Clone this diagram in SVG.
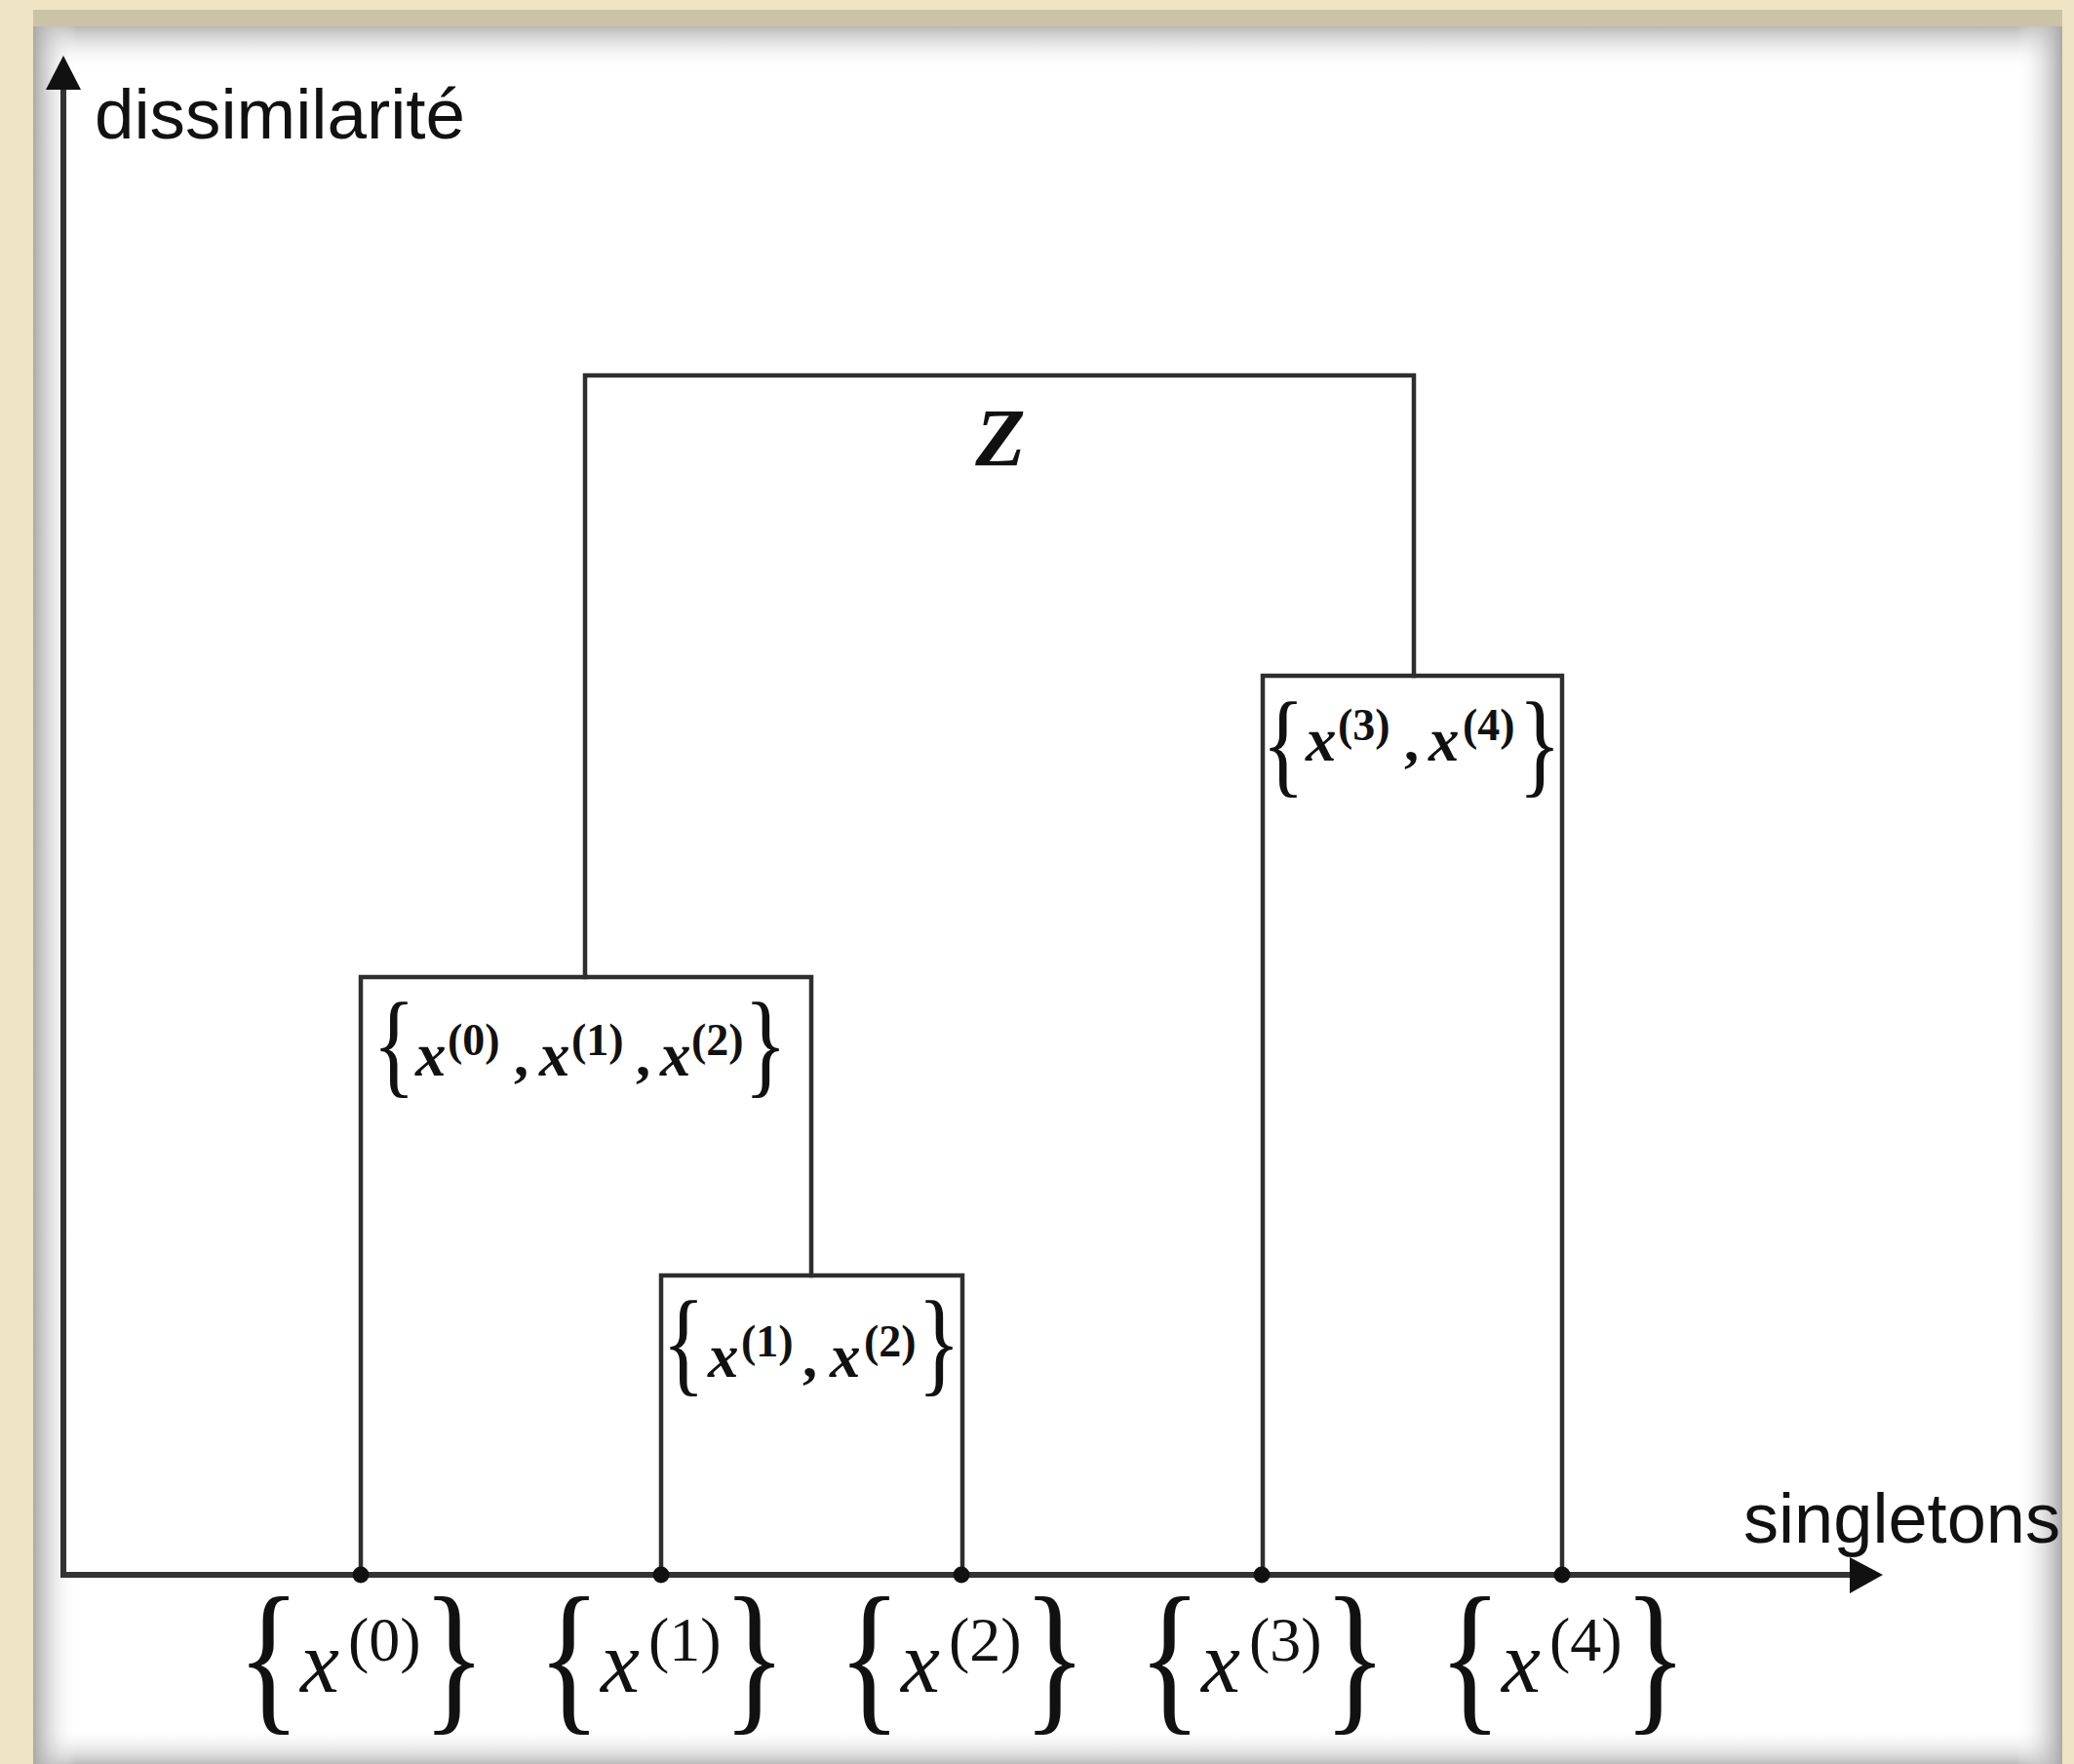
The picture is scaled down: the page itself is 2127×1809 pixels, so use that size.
<svg xmlns="http://www.w3.org/2000/svg" width="2127" height="1809" viewBox="0 0 2127 1809">
<defs>
<linearGradient id="gl" x1="0" y1="0" x2="1" y2="0"><stop offset="0" stop-color="#a9a9a9"/><stop offset="1" stop-color="#ffffff" stop-opacity="0"/></linearGradient>
<linearGradient id="gr" x1="1" y1="0" x2="0" y2="0"><stop offset="0" stop-color="#a9a9a9"/><stop offset="1" stop-color="#ffffff" stop-opacity="0"/></linearGradient>
<linearGradient id="gt" x1="0" y1="0" x2="0" y2="1"><stop offset="0" stop-color="#b8b8b8"/><stop offset="1" stop-color="#ffffff" stop-opacity="0"/></linearGradient>
<linearGradient id="gb" x1="0" y1="1" x2="0" y2="0"><stop offset="0" stop-color="#bdbdbd"/><stop offset="1" stop-color="#ffffff" stop-opacity="0"/></linearGradient>
<style>
.ln{stroke:#2e2e2e;stroke-width:4.5;fill:none;stroke-linecap:square}
.ax{stroke:#333;stroke-width:6;fill:none}
.dot{fill:#111}
.lab{font-family:"Liberation Sans",Arial,sans-serif;font-size:73px;fill:#111}
.br{font-family:"Liberation Serif","Times New Roman",serif;fill:#111}
.mx{font-family:"Liberation Serif","Times New Roman",serif;font-style:italic;fill:#111}
.mr{font-family:"Liberation Serif","Times New Roman",serif;fill:#111}
.bx{font-family:"Liberation Serif","Times New Roman",serif;font-style:italic;font-weight:bold;fill:#111}
.brd{font-family:"Liberation Serif","Times New Roman",serif;font-weight:bold;fill:#111}
</style>
</defs>
<g id="background">
<rect width="2127" height="1809" fill="#efe4c3"/>
<rect x="34" y="10" width="2081" height="20" fill="#cbc3a6"/>
<rect x="34" y="27" width="2081" height="1782" fill="#ffffff"/>
<rect x="34" y="27" width="2081" height="45" fill="url(#gt)"/>
<rect x="34" y="1772" width="2081" height="37" fill="url(#gb)"/>
<rect x="34" y="27" width="45" height="1782" fill="url(#gl)"/>
<rect x="2068" y="27" width="47" height="1782" fill="url(#gr)"/>
</g>
<g id="axes">
<line class="ax" x1="65" y1="1615" x2="65" y2="88"/>
<polygon points="65,57 47,92 83,92" fill="#111"/>
<line class="ax" x1="62" y1="1615" x2="1900" y2="1615"/>
<polygon points="1931,1615 1897,1597 1897,1634" fill="#111"/>
<text class="lab" x="97" y="142" textLength="380" lengthAdjust="spacingAndGlyphs">dissimilarité</text>
<text class="lab" x="1788" y="1582" textLength="325" lengthAdjust="spacingAndGlyphs">singletons</text>
</g>
<g id="connectors">
<polyline class="ln" points="600,1002 600,385 1450,385 1450,693"/>
<polyline class="ln" points="370,1615 370,1002 832,1002 832,1308"/>
<polyline class="ln" points="678,1615 678,1308 987,1308 987,1615"/>
<polyline class="ln" points="1295,1615 1295,693 1602,693 1602,1615"/>
</g>
<g id="leaf0">
<circle class="dot" cx="370" cy="1615" r="8.5"/>
<text class="br" font-size="136" transform="translate(243,1756) scale(1,1.26)">{</text>
<text class="mx" font-size="90" x="308" y="1735">x</text>
<text class="mr" font-size="64" x="357" y="1703">(0)</text>
<text class="br" font-size="136" transform="translate(433,1756) scale(1,1.26)">}</text>
</g>
<g id="leaf1">
<circle class="dot" cx="678" cy="1615" r="8.5"/>
<text class="br" font-size="136" transform="translate(551,1756) scale(1,1.26)">{</text>
<text class="mx" font-size="90" x="616" y="1735">x</text>
<text class="mr" font-size="64" x="665" y="1703">(1)</text>
<text class="br" font-size="136" transform="translate(741,1756) scale(1,1.26)">}</text>
</g>
<g id="leaf2">
<circle class="dot" cx="986" cy="1615" r="8.5"/>
<text class="br" font-size="136" transform="translate(859,1756) scale(1,1.26)">{</text>
<text class="mx" font-size="90" x="924" y="1735">x</text>
<text class="mr" font-size="64" x="973" y="1703">(2)</text>
<text class="br" font-size="136" transform="translate(1049,1756) scale(1,1.26)">}</text>
</g>
<g id="leaf3">
<circle class="dot" cx="1294" cy="1615" r="8.5"/>
<text class="br" font-size="136" transform="translate(1167,1756) scale(1,1.26)">{</text>
<text class="mx" font-size="90" x="1232" y="1735">x</text>
<text class="mr" font-size="64" x="1281" y="1703">(3)</text>
<text class="br" font-size="136" transform="translate(1357,1756) scale(1,1.26)">}</text>
</g>
<g id="leaf4">
<circle class="dot" cx="1602" cy="1615" r="8.5"/>
<text class="br" font-size="136" transform="translate(1475,1756) scale(1,1.26)">{</text>
<text class="mx" font-size="90" x="1540" y="1735">x</text>
<text class="mr" font-size="64" x="1589" y="1703">(4)</text>
<text class="br" font-size="136" transform="translate(1665,1756) scale(1,1.26)">}</text>
</g>
<g id="cluster-12">
<text class="br" font-size="92" transform="translate(679,1416) scale(1,1.3)">{</text>
<text class="bx" font-size="63" x="726" y="1412">x</text>
<text class="brd" font-size="46" x="760" y="1391">(1)</text>
<text class="brd" font-size="60" x="823" y="1412">,</text>
<text class="bx" font-size="63" x="851" y="1412">x</text>
<text class="brd" font-size="46" x="886" y="1391">(2)</text>
<text class="br" font-size="92" transform="translate(941,1416) scale(1,1.3)">}</text>
</g>
<g id="cluster-012">
<text class="br" font-size="92" transform="translate(382,1110) scale(1,1.3)">{</text>
<text class="bx" font-size="63" x="426" y="1103">x</text>
<text class="brd" font-size="46" x="459" y="1082">(0)</text>
<text class="brd" font-size="60" x="527" y="1103">,</text>
<text class="bx" font-size="63" x="553" y="1103">x</text>
<text class="brd" font-size="46" x="586" y="1082">(1)</text>
<text class="brd" font-size="60" x="652" y="1103">,</text>
<text class="bx" font-size="63" x="677" y="1103">x</text>
<text class="brd" font-size="46" x="709" y="1082">(2)</text>
<text class="br" font-size="92" transform="translate(763,1110) scale(1,1.3)">}</text>
</g>
<g id="cluster-34">
<text class="br" font-size="92" transform="translate(1294,802) scale(1,1.3)">{</text>
<text class="bx" font-size="63" x="1339" y="780">x</text>
<text class="brd" font-size="46" x="1372" y="759">(3)</text>
<text class="brd" font-size="60" x="1440" y="780">,</text>
<text class="bx" font-size="63" x="1465" y="780">x</text>
<text class="brd" font-size="46" x="1500" y="759">(4)</text>
<text class="br" font-size="92" transform="translate(1557,802) scale(1,1.3)">}</text>
</g>
<g id="cluster-Z">
<text class="bx" font-size="84" x="1026" y="478" text-anchor="middle">Z</text>
</g>
</svg>
